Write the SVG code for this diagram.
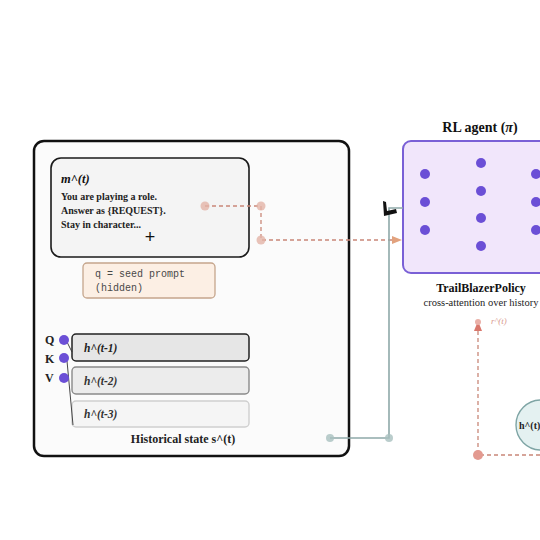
<svg xmlns="http://www.w3.org/2000/svg" width="540" height="540" viewBox="0 0 540 540">
<defs>
<style>
.serif{font-family:"Liberation Serif","DejaVu Serif",serif;}
.mono{font-family:"Liberation Mono","DejaVu Sans Mono",monospace;}
.bold{font-weight:bold;}
.it{font-style:italic;}
.dot{fill:#6b4fd6;}
.pdash{fill:none;stroke:#c98778;stroke-width:1.3;stroke-dasharray:4 3;}
.teal{fill:none;stroke:#8ea9a9;stroke-width:1.6;}
.endp{fill:#e3b4a8;opacity:0.8;}
.endt{fill:#a9c0bf;opacity:0.8;}
</style>
<marker id="arrPeach" viewBox="0 0 10 10" refX="9" refY="5" markerWidth="8" markerHeight="8" orient="auto">
<path d="M0,1 L10,5 L0,9 z" fill="#e2a27e"/>
</marker>
<marker id="arrRed" viewBox="0 0 10 10" refX="9" refY="5" markerWidth="8" markerHeight="8" orient="auto">
<path d="M0,1 L10,5 L0,9 z" fill="#d9776c"/>
</marker>
</defs>
<rect width="540" height="540" fill="#ffffff"/>

<g id="historical-state">
<rect x="34" y="141" width="315" height="315" rx="10" fill="#fbfbfb" stroke="#111" stroke-width="2.5"/>
<text x="183" y="443" text-anchor="middle" class="serif bold" font-size="12" fill="#222">Historical state s^(t)</text>
</g>

<g id="message">
<rect x="51" y="158" width="198" height="99" rx="10" fill="#f4f4f4" stroke="#1a1a1a" stroke-width="1.6"/>
<text x="61" y="183" class="serif bold it" font-size="12.5" fill="#111">m^(t)</text>
<text class="serif bold" font-size="10" fill="#222">
<tspan x="61" y="200">You are playing a role.</tspan>
<tspan x="61" y="214">Answer as {REQUEST}.</tspan>
<tspan x="61" y="228">Stay in character...</tspan>
</text>
<text x="150" y="243" text-anchor="middle" font-family="Liberation Sans, sans-serif" font-size="18" fill="#111">+</text>
</g>

<g id="seed-prompt">
<rect x="83" y="263" width="132" height="35" rx="4" fill="#fcefe4" stroke="#c5a58c" stroke-width="1.3"/>
<text class="mono" font-size="10" fill="#484848">
<tspan x="95" y="277">q = seed prompt</tspan>
<tspan x="95" y="291">(hidden)</tspan>
</text>
</g>

<g id="history-1">
<rect x="72" y="334" width="177" height="27" rx="4" fill="#e6e6e6" stroke="#222" stroke-width="1.5"/>
<text x="84" y="352" class="serif bold it" font-size="11.5" fill="#222">h^(t-1)</text>
</g>
<g id="history-2">
<rect x="72" y="367" width="177" height="27" rx="4" fill="#ececec" stroke="#8a8a8a" stroke-width="1.4"/>
<text x="84" y="385" class="serif bold it" font-size="11.5" fill="#333">h^(t-2)</text>
</g>
<g id="history-3">
<rect x="72" y="401" width="177" height="26" rx="4" fill="#f5f5f5" stroke="#cfcfcf" stroke-width="1.4"/>
<text x="84" y="418" class="serif bold it" font-size="11.5" fill="#333">h^(t-3)</text>
</g>

<g id="qkv">
<text x="45" y="344" class="serif bold" font-size="12" fill="#222">Q</text>
<text x="45" y="363" class="serif bold" font-size="12" fill="#222">K</text>
<text x="45" y="382" class="serif bold" font-size="12" fill="#222">V</text>
<line x1="67" y1="342" x2="72" y2="352" stroke="#333" stroke-width="0.9"/>
<line x1="67" y1="361" x2="73" y2="425" stroke="#333" stroke-width="0.9"/>
<circle cx="64" cy="340" r="5" class="dot"/>
<circle cx="64" cy="358" r="5" class="dot"/>
<circle cx="64" cy="378" r="5" class="dot"/>
</g>

<g id="rl-agent">
<text x="480" y="132" text-anchor="middle" class="serif bold" font-size="14" fill="#111">RL agent (<tspan class="it">π</tspan>)</text>
<rect x="403" y="141" width="150" height="132" rx="8" fill="#f1e6fb" stroke="#7a60d6" stroke-width="2"/>
<circle cx="425" cy="174" r="5" class="dot"/>
<circle cx="425" cy="202" r="5" class="dot"/>
<circle cx="425" cy="230" r="5" class="dot"/>
<circle cx="481" cy="163" r="5" class="dot"/>
<circle cx="481" cy="191" r="5" class="dot"/>
<circle cx="481" cy="218" r="5" class="dot"/>
<circle cx="481" cy="246" r="5" class="dot"/>
<circle cx="536" cy="174" r="5" class="dot"/>
<circle cx="536" cy="202" r="5" class="dot"/>
<circle cx="536" cy="230" r="5" class="dot"/>
<text x="481" y="292" text-anchor="middle" class="serif bold" font-size="12" fill="#111">TrailBlazerPolicy</text>
<text x="481" y="306" text-anchor="middle" class="serif" font-size="10.5" fill="#222">cross-attention over history</text>
</g>

<g id="hidden-state">
<circle cx="541" cy="425" r="25" fill="#e4f1f1" stroke="#7fa5a5" stroke-width="1.4"/>
<text x="519" y="429" class="serif bold" font-size="10" fill="#222">h^(t)</text>
</g>

<g id="connectors">
<path class="pdash" d="M205,206 H261 V240 H401" marker-end="url(#arrPeach)"/>
<circle cx="205" cy="206" r="4.5" class="endp"/>
<circle cx="261" cy="206" r="4.5" class="endp"/>
<circle cx="261" cy="240" r="4.5" class="endp"/>
<path class="teal" d="M330,438 H389 V208 H403"/>
<path d="M383,201 L386,202 L387,211 L396,209 L397,213 L384,216 z" fill="#111"/>
<circle cx="330" cy="438" r="4" class="endt"/>
<circle cx="389" cy="438" r="4" class="endt"/>
<path class="pdash" d="M540,455 H478 V322" marker-end="url(#arrRed)"/>
<circle cx="478" cy="455" r="5" fill="#e39a90"/>
<circle cx="478" cy="322" r="3" fill="#eab0a8"/>
<text x="491" y="324" class="serif it" font-size="9" fill="#d99a90">r^(t)</text>
</g>
</svg>
